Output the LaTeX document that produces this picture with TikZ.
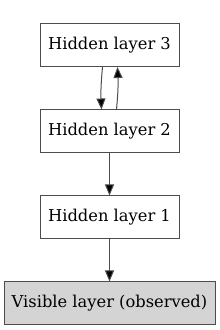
\documentclass[tikz,border=0pt]{standalone}
\usepackage{fontspec}
\setmainfont{DejaVu Serif}
\usetikzlibrary{arrows.meta}
\begin{document}
\begin{tikzpicture}[x=1pt,y=1pt,
  layer/.style={draw=black!70, line width=1pt, minimum width=139pt, minimum height=43pt, inner sep=0pt, font=\fontsize{16.3}{18}\selectfont},
  conn/.style={draw=black!70, line width=1pt, -{Triangle[length=11pt,width=9pt,fill=black]}}]
\useasboundingbox (0,0) rectangle (220,330);
\node[layer] (h3) at (109.5,285) {Hidden layer 3};
\node[layer] (h2) at (109.5,198.5) {Hidden layer 2};
\node[layer] (h1) at (109.5,112.5) {Hidden layer 1};
\node[layer, fill=black!17, minimum width=211pt] (v) at (109.5,26.5) {Visible layer (observed)};
\draw[conn] ([xshift=-7pt]h3.south) to[bend right=4] ([xshift=-8pt]h2.north);
\draw[conn] ([xshift=7pt]h2.north) to[bend right=4] ([xshift=8pt]h3.south);
\draw[conn] (h2) -- (h1);
\draw[conn] (h1) -- (v);
\end{tikzpicture}
\end{document}
